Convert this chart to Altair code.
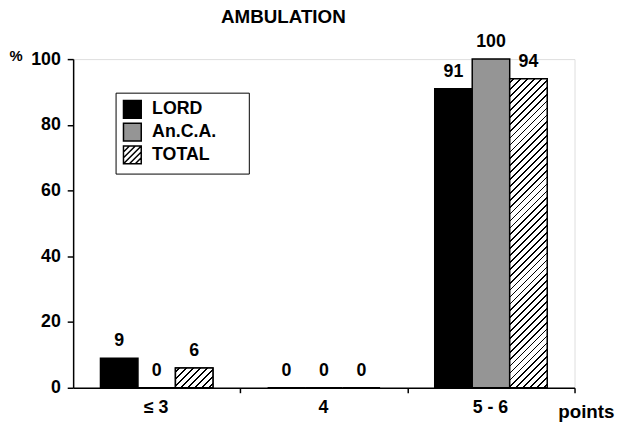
import altair as alt
import pandas as pd

categories = ["≤ 3", "4", "5 - 6"]
series = ["LORD", "An.C.A.", "TOTAL"]
lord = [9, 0, 91]
anca = [0, 0, 100]
total = [6, 0, 94]

rows = []
for s, vals in zip(series, [lord, anca, total]):
    for c, v in zip(categories, vals):
        rows.append({"category": c, "series": s, "value": v})
df = pd.DataFrame(rows)

FONT = "Liberation Sans"
W, H = 508, 333
P_IN = 0.327
STEP = W / 3.0
BAR_W = STEP * (1 - P_IN) / 3.0


def hatch(w, h, period=7.0, line=1.7):
    L = w + h
    s = L / (w * w + h * h)
    stops = [alt.GradientStop(color="white", offset=0)]
    c = period / 2.0
    while c + line < L:
        a, b = c / L, (c + line) / L
        stops += [alt.GradientStop(color="white", offset=a),
                  alt.GradientStop(color="black", offset=a),
                  alt.GradientStop(color="black", offset=b),
                  alt.GradientStop(color="white", offset=b)]
        c += period
    stops.append(alt.GradientStop(color="white", offset=1))
    return alt.LinearGradient(gradient="linear", stops=stops,
                              x1=0, y1=0, x2=w * s, y2=h * s)


x_enc = alt.X("category:N", sort=categories,
              scale=alt.Scale(paddingInner=P_IN, paddingOuter=P_IN / 2),
              axis=alt.Axis(title="points", labelAngle=0,
                            tickOffset=STEP / 2, labelOffset=-STEP / 2 - 1,
                            domainColor="black", domainWidth=1.5,
                            tickColor="black", tickWidth=1.5, tickSize=5,
                            labelFont=FONT, labelFontSize=18, labelFontWeight="bold",
                            labelColor="black", labelPadding=6,
                            titleFont=FONT, titleFontSize=19, titleFontWeight="bold",
                            titleColor="black", titleAlign="left", titleBaseline="middle",
                            titleX=491, titleY=24, titleAngle=0))
xo_enc = alt.XOffset("series:N", sort=series,
                     scale=alt.Scale(paddingInner=0, paddingOuter=0))
y_enc = alt.Y("value:Q", scale=alt.Scale(domain=[0, 100], nice=False),
              axis=alt.Axis(title="%", values=[0, 20, 40, 60, 80, 100], grid=False,
                            domainColor="black", domainWidth=1.5,
                            tickColor="black", tickWidth=1.5, tickSize=6,
                            labelFont=FONT, labelFontSize=18, labelFontWeight="bold",
                            labelColor="black", labelPadding=7,
                            titleFont=FONT, titleFontSize=15, titleFontWeight="bold",
                            titleColor="black", titleAngle=0, titleAlign="left",
                            titleBaseline="middle", titleX=-65, titleY=-4))

fill_scale = alt.Scale(domain=series, range=["black", "#959595", "white"])

hatch_path = ("M-1,-1H1V1H-1Z M-1,-0.33L-0.33,-1 M-1,0.33L0.33,-1 M-1,1L1,-1 "
              "M-0.33,1L1,-0.33 M0.33,1L1,0.33")
legend = alt.Legend(title=None, orient="none", legendX=43, legendY=34,
                    strokeColor="black", fillColor="white", padding=7,
                    symbolSize=324, symbolStrokeWidth=1.5, symbolStrokeColor="black",
                    labelFont=FONT, labelFontSize=18, labelFontWeight="bold",
                    labelColor="black", labelOffset=10, rowPadding=-1, cornerRadius=0,
                    labelExpr="datum.label + '\u2800\u2800'")

bars = alt.Chart(df).mark_bar(stroke="black", strokeWidth=1.5).encode(
    x=x_enc, xOffset=xo_enc, y=y_enc,
    fill=alt.Fill("series:N", scale=fill_scale, legend=legend),
)

layers = [bars]
for c, v in zip(categories, total):
    if v > 0:
        h = v * H / 100.0
        layers.append(
            alt.Chart(df).transform_filter(
                (alt.datum.series == "TOTAL") & (alt.datum.category == c)
            ).mark_bar(stroke="black", strokeWidth=1.5, fill=hatch(BAR_W, h)).encode(
                x=x_enc, xOffset=xo_enc, y=y_enc)
        )

labels = alt.Chart(df).mark_text(font=FONT, fontSize=18, fontWeight="bold",
                                 color="black", baseline="middle", dy=-17).encode(
    x=x_enc, xOffset=xo_enc, y=y_enc, text=alt.Text("value:Q"))
layers.append(labels)

legend_layer = alt.Chart(df).transform_filter("false").mark_point(
    filled=True, stroke="black", strokeWidth=1.5, size=324, opacity=1).encode(
    x=x_enc, y=y_enc,
    fill=alt.Fill("series:N", scale=fill_scale, legend=legend),
    shape=alt.Shape("series:N", scale=alt.Scale(domain=series,
                    range=["square", "square", hatch_path]), legend=legend),
)
layers.append(legend_layer)

chart = alt.layer(*layers).properties(
    width=W, height=H,
    title=alt.TitleParams("AMBULATION", font=FONT, fontSize=19, fontWeight="bold",
                          color="black", anchor="middle", dx=-41, dy=21, offset=9,
                          frame="group", baseline="bottom"),
    autosize=alt.AutoSizeParams(type="none"),
    padding={"left": 66, "top": 49, "right": 41, "bottom": 40},
).configure_view(stroke=None).configure(background="white")

chart.save("out.html", embed_options={"renderer": "svg", "actions": False})
